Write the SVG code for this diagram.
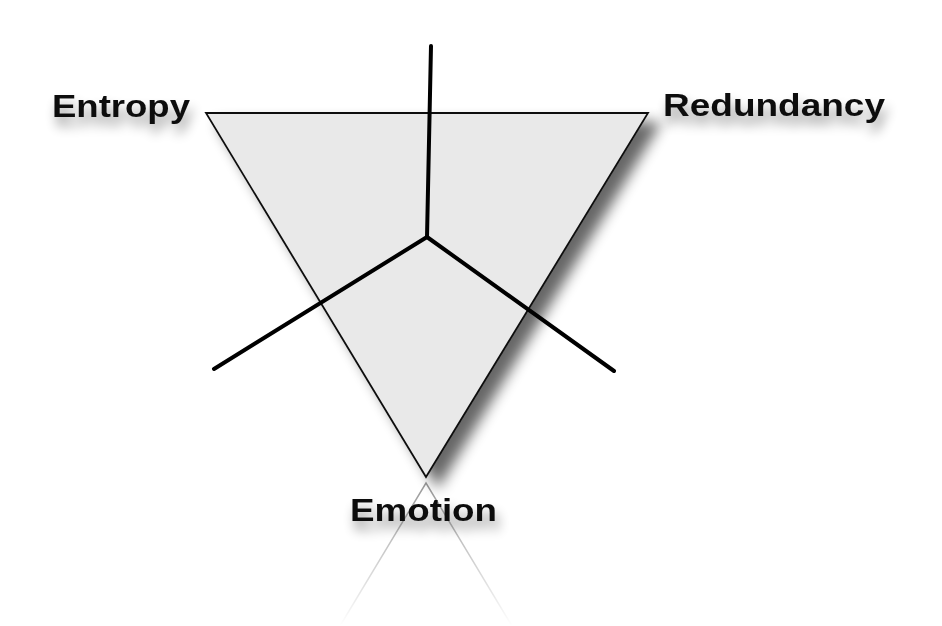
<svg xmlns="http://www.w3.org/2000/svg" width="942" height="626" viewBox="0 0 942 626">
<style>
.lbl{font-family:"Liberation Sans",Arial,sans-serif;font-weight:bold;font-size:32px;fill:#111}
.axis{stroke:#000;stroke-width:4;stroke-linecap:round;fill:none}
</style>
<defs>
<filter id="sh" x="-20%" y="-20%" width="150%" height="150%">
<feGaussianBlur in="SourceAlpha" stdDeviation="7"/>
<feOffset dx="12" dy="10" result="b"/>
<feComponentTransfer><feFuncA type="linear" slope="0.6"/></feComponentTransfer>
<feMerge><feMergeNode/><feMergeNode in="SourceGraphic"/></feMerge>
</filter>
<filter id="tsh" x="-20%" y="-40%" width="140%" height="200%">
<feGaussianBlur in="SourceAlpha" stdDeviation="6"/>
<feOffset dx="3" dy="9"/>
<feComponentTransfer><feFuncA type="linear" slope="0.4"/></feComponentTransfer>
<feMerge><feMergeNode/><feMergeNode in="SourceGraphic"/></feMerge>
</filter>
<linearGradient id="fade" x1="0" y1="484" x2="0" y2="626" gradientUnits="userSpaceOnUse">
<stop offset="0" stop-color="#000" stop-opacity="0.4"/>
<stop offset="1" stop-color="#000" stop-opacity="0"/>
</linearGradient>
</defs>
<rect width="942" height="626" fill="#fff"/>
<g id="reflection">
<path d="M340,626 L426,483 L512,626" fill="none" stroke="url(#fade)" stroke-width="1.5"/>
</g>
<g id="triangle">
<polygon points="206,113 648,113 426,477" fill="#e9e9e9" stroke="#111" stroke-width="1.8" stroke-linejoin="miter" filter="url(#sh)"/>
</g>
<g id="connectors">
<line class="axis" x1="431" y1="46" x2="427" y2="237"/>
<line class="axis" x1="427" y1="237" x2="214" y2="369"/>
<line class="axis" x1="427" y1="237" x2="614" y2="371"/>
</g>
<g id="entropy" filter="url(#tsh)">
<text class="lbl" x="52" y="117" textLength="138" lengthAdjust="spacingAndGlyphs">Entropy</text>
</g>
<g id="redundancy" filter="url(#tsh)">
<text class="lbl" x="663" y="116" textLength="222" lengthAdjust="spacingAndGlyphs">Redundancy</text>
</g>
<g id="emotion" filter="url(#tsh)">
<text class="lbl" x="350" y="521" textLength="147" lengthAdjust="spacingAndGlyphs">Emotion</text>
</g>
</svg>
